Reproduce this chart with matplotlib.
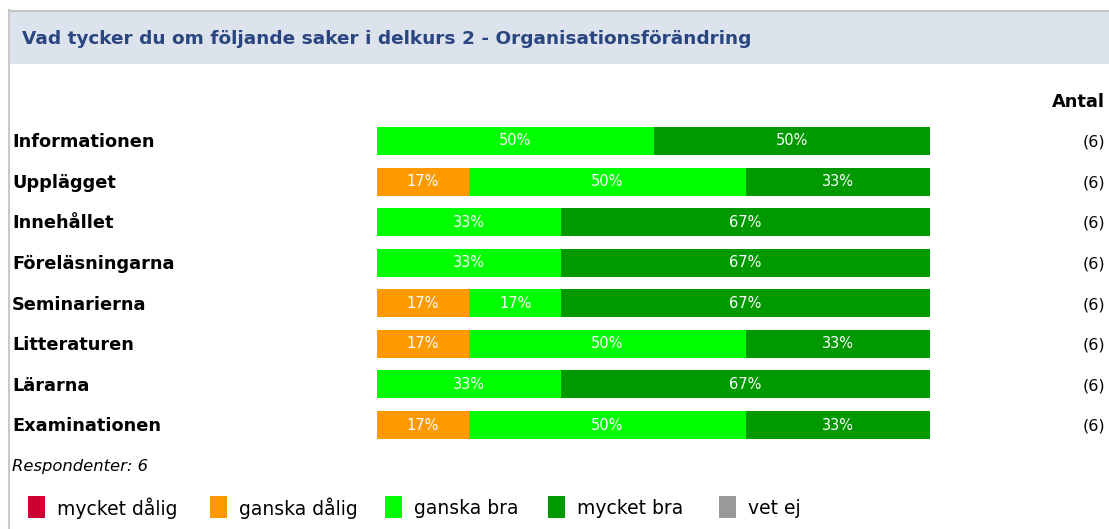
import matplotlib.pyplot as plt
from matplotlib.patches import Rectangle
from matplotlib.transforms import blended_transform_factory

# data (answer counts per question, out of antal)
questions = ['Informationen', 'Upplägget', 'Innehållet', 'Föreläsningarna',
             'Seminarierna', 'Litteraturen', 'Lärarna', 'Examinationen']
categories = ['mycket dålig', 'ganska dålig', 'ganska bra', 'mycket bra', 'vet ej']
colors = ['#CC0033', '#FF9900', '#00FF00', '#009900', '#999999']
mycket_dalig = [0, 0, 0, 0, 0, 0, 0, 0]
ganska_dalig = [0, 1, 0, 0, 1, 1, 0, 1]
ganska_bra = [3, 3, 2, 2, 1, 3, 2, 3]
mycket_bra = [3, 2, 4, 4, 4, 2, 4, 2]
vet_ej = [0, 0, 0, 0, 0, 0, 0, 0]
antal = [6, 6, 6, 6, 6, 6, 6, 6]
respondenter = 6
title = 'Vad tycker du om följande saker i delkurs 2 - Organisationsförändring'

W, H = 1109, 529
fig = plt.figure(figsize=(W / 100, H / 100), dpi=100)

def fx(px):
    return px / W

def fy(py):
    return 1 - py / H

# frame / header band
fig.patches.append(Rectangle((fx(9), fy(64)), fx(W - 9), (64 - 11) / H,
                             transform=fig.transFigure, facecolor='#dde3ec',
                             edgecolor='none'))
fig.add_artist(plt.Line2D([fx(9), 1], [fy(10.5), fy(10.5)], color='#c4c4c4', lw=1.5))
fig.add_artist(plt.Line2D([fx(9), fx(9)], [fy(10), 0], color='#c8c8c8', lw=1.5))
fig.text(fx(22), fy(39), title, fontsize=13.3, color='#2a4680',
         fontweight='bold', va='center', ha='left')

# bars axes
row_top, row_bot = 120.7, 445.3
ax = fig.add_axes([fx(377), fy(row_bot), fx(553), (row_bot - row_top) / H])
series = [mycket_dalig, ganska_dalig, ganska_bra, mycket_bra, vet_ej]
n = len(questions)
left = [0] * n
for vals, col in zip(series, colors):
    pct = [v / a * 100 for v, a in zip(vals, antal)]
    ax.barh(range(n), pct, left=left, height=0.69, color=col, edgecolor='none')
    for i, p in enumerate(pct):
        if p > 0:
            ax.text(left[i] + p / 2, i, f'{round(p)}%', ha='center', va='center',
                    color='white', fontsize=10.5)
    left = [a + b for a, b in zip(left, pct)]
ax.set_xlim(0, 100)
ax.set_ylim(n - 0.5, -0.5)
ax.axis('off')

tr = blended_transform_factory(fig.transFigure, ax.transData)
for i, q in enumerate(questions):
    ax.text(fx(12), i + 0.03, q, transform=tr, ha='left', va='center',
            fontsize=12.8, fontweight='bold', color='black')
    ax.text(fx(1105), i + 0.03, f'({antal[i]})', transform=tr, ha='right',
            va='center', fontsize=11.5, color='black')
fig.text(fx(1105), fy(102), 'Antal', ha='right', va='center',
         fontsize=12.8, fontweight='bold')

fig.text(fx(12), fy(466), f'Respondenter: {respondenter}', ha='left',
         va='center', fontsize=11.8, style='italic')

# legend
legend_x = [28, 210, 385, 548, 719]
for lx, cat, col in zip(legend_x, categories, colors):
    fig.patches.append(Rectangle((fx(lx), fy(518)), fx(17), 22 / H,
                                 transform=fig.transFigure, facecolor=col,
                                 edgecolor='none'))
    fig.text(fx(lx + 29), fy(508), cat, ha='left', va='center', fontsize=13.5)

fig.savefig('out.png', dpi=100)
